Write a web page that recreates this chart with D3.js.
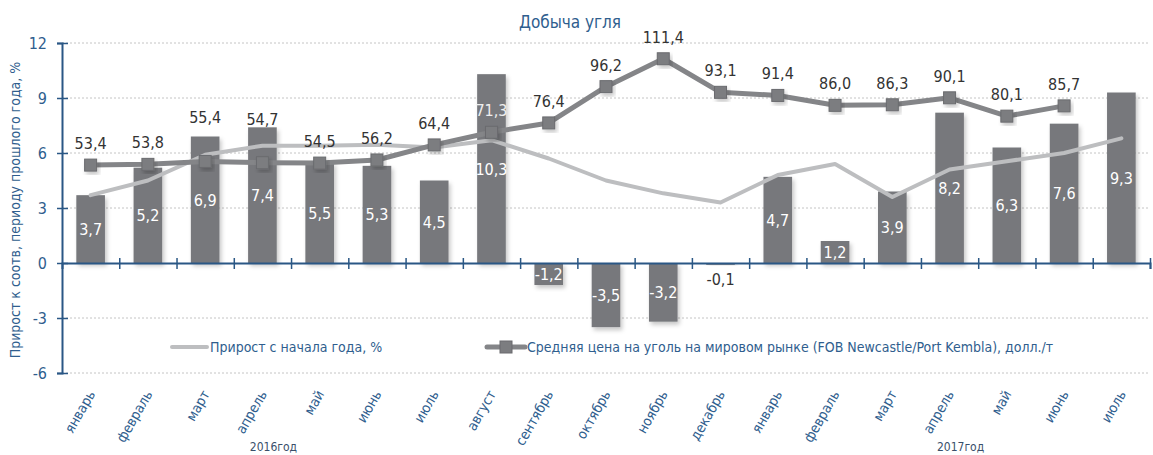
<!DOCTYPE html>
<html>
<head>
<meta charset="utf-8">
<script src="https://cdn.jsdelivr.net/npm/d3@7"></script>
<style>
    body { margin: 0; background: #fff; }
    svg text { font-family: "Liberation Sans Narrow", "DejaVu Sans Condensed", "Roboto", sans-serif; }
</style>
</head>
<body>
<svg id="chart" width="1153" height="455"></svg>
<script>
// month labels under the bars (two years in a row)
var months = ["январь", "февраль", "март", "апрель", "май", "июнь", "июль", "август",
    "сентябрь", "октябрь", "ноябрь", "декабрь", "январь", "февраль", "март", "апрель",
    "май", "июнь", "июль"];
// growth vs the same period of the previous year, %
var growth = [3.7, 5.2, 6.9, 7.4, 5.5, 5.3, 4.5, 10.3, -1.2, -3.5, -3.2, -0.1,
    4.7, 1.2, 3.9, 8.2, 6.3, 7.6, 9.3];
// growth since the start of the year, %
var growthYtd = [3.7, 4.5, 5.9, 6.4, 6.4, 6.45, 6.3, 6.7, 5.7, 4.5, 3.8, 3.3,
    4.8, 5.4, 3.6, 5.1, 5.55, 6.0, 6.8];
// coal price FOB Newcastle/Port Kembla, USD/t (secondary axis)
var price = [53.4, 53.8, 55.4, 54.7, 54.5, 56.2, 64.4, 71.3, 76.4, 96.2, 111.4, 93.1,
    91.4, 86.0, 86.3, 90.1, 80.1, 85.7, null];
var yTicks = [-6, -3, 0, 3, 6, 9, 12];
var years = [{label: "2016год", at: 3}, {label: "2017год", at: 15}];
var seriesNames = ["Прирост с начала года, %",
    "Средняя цена на уголь на мировом рынке (FOB Newcastle/Port Kembla), долл./т"];

var BLUE = "#2f5e8e", BAR = "#77787c", LIGHT = "#bdbec0", DARK = "#848588";
var plotLeft = 62, plotRight = 1150, plotTop = 43, plotBottom = 373;
var raisedLabels = [2, 3]; // price labels lifted above the bars

var svg = d3.select("#chart");
// comma decimals and a plain hyphen for negatives, as in the original
var fmt = function(v) { return d3.format(".1f")(v).replace(".", ",").replace("\u2212", "-"); };

var x = d3.scaleBand().domain(d3.range(months.length))
    .range([plotLeft, plotRight]).paddingInner(0.5).paddingOuter(0.25);
var y = d3.scaleLinear().domain([-6, 12]).range([plotBottom, plotTop]);
var y2 = d3.scaleLinear().domain([-60, 120]).range([plotBottom, plotTop]);
var cx = function(i) { return x(i) + x.bandwidth() / 2; };

// soft shadow under the bars
var defs = svg.append("defs");
defs.append("filter").attr("id", "shadow")
    .attr("x", "-20%").attr("y", "-20%").attr("width", "150%").attr("height", "150%")
    .append("feDropShadow")
    .attr("dx", 2).attr("dy", 3).attr("stdDeviation", 2)
    .attr("flood-color", "#000").attr("flood-opacity", 0.22);

// dotted gridlines
svg.append("g").selectAll("line")
    .data(yTicks.filter(function(t) { return t !== 0; }))
    .enter().append("line")
    .attr("x1", plotLeft).attr("x2", plotRight)
    .attr("y1", function(d) { return y(d); }).attr("y2", function(d) { return y(d); })
    .attr("stroke", "#c4c4c4").attr("stroke-dasharray", "2,2");

// bars
svg.append("g").selectAll("rect")
    .data(growth).enter().append("rect")
    .attr("x", function(d, i) { return x(i); })
    .attr("width", x.bandwidth())
    .attr("y", function(d) { return y(Math.max(d, 0)); })
    .attr("height", function(d) { return Math.abs(y(d) - y(0)); })
    .attr("fill", BAR)
    .attr("filter", "url(#shadow)");

// axes
var yAxis = svg.append("g")
    .attr("transform", "translate(" + plotLeft + ",0)")
    .call(d3.axisLeft(y).tickValues(yTicks).tickSize(5).tickPadding(10)
        .tickFormat(function(d) { return d; }));
yAxis.selectAll(".tick line").attr("x2", 6).attr("x1", -5);
var xAxis = svg.append("g")
    .attr("transform", "translate(0," + y(0) + ")")
    .call(d3.axisBottom(d3.scaleLinear().domain([0, months.length]).range([plotLeft, plotRight]))
        .tickValues(d3.range(1, months.length + 1)).tickSize(6).tickFormat(""));
xAxis.selectAll(".tick line").attr("y1", -5);
[yAxis, xAxis].forEach(function(a) {
    a.select(".domain").attr("stroke", "#2a5785").attr("stroke-width", 2);
    a.selectAll(".tick line").attr("stroke", "#2a5785").attr("stroke-width", 1.5);
});
yAxis.selectAll(".tick text").attr("fill", BLUE).attr("font-size", 16)
    .attr("font-family", null);

// growth since start of year
svg.append("path").datum(growthYtd)
    .attr("fill", "none").attr("stroke", LIGHT).attr("stroke-width", 4)
    .attr("stroke-linejoin", "round").attr("stroke-linecap", "round")
    .attr("d", d3.line().x(function(d, i) { return cx(i); }).y(function(d) { return y(d); }));

// price line with square markers
var priceLine = d3.line()
    .defined(function(d) { return d !== null; })
    .x(function(d, i) { return cx(i); }).y(function(d) { return y2(d); });
svg.append("path").datum(price)
    .attr("fill", "none").attr("stroke", DARK).attr("stroke-width", 5)
    .attr("stroke-linejoin", "round").attr("d", priceLine);
svg.append("g").selectAll("rect")
    .data(price.map(function(v, i) { return {v: v, i: i}; })
        .filter(function(d) { return d.v !== null; }))
    .enter().append("rect")
    .attr("x", function(d) { return cx(d.i) - 6; })
    .attr("y", function(d) { return y2(d.v) - 6; })
    .attr("width", 12).attr("height", 12)
    .attr("fill", "#7c7d80").attr("stroke", "#6a6b6e").attr("stroke-width", 1)
    .attr("filter", "url(#shadow)");

// bar value labels
svg.append("g").selectAll("text")
    .data(growth).enter().append("text")
    .attr("x", function(d, i) { return cx(i); })
    .attr("y", function(d) {
        var h = Math.abs(y(d) - y(0));
        if (h < 14) return y(0) + 22;
        return (y(d) + y(0)) / 2 + 6;
    })
    .attr("text-anchor", "middle").attr("font-size", 16)
    .attr("fill", function(d) { return Math.abs(y(d) - y(0)) < 14 ? "#333" : "#fff"; })
    .text(fmt);

// price labels
function priceLabelY(d) {
    var off = raisedLabels.indexOf(d.i) >= 0 ? 38 : 16;
    return y2(d.v) - off;
}
svg.append("g").selectAll("text")
    .data(price.map(function(v, i) { return {v: v, i: i}; })
        .filter(function(d) { return d.v !== null; }))
    .enter().append("text")
    .attr("x", function(d) { return cx(d.i); })
    .attr("y", priceLabelY)
    .attr("text-anchor", "middle").attr("font-size", 16)
    .attr("fill", function(d) {
        // light text where the label sits on top of a bar
        var ly = priceLabelY(d) - 6;
        return (growth[d.i] > 0 && ly > y(growth[d.i])) ? "#eeeeee" : "#333";
    })
    .text(function(d) { return fmt(d.v); });

// month labels, rotated
svg.append("g").selectAll("text")
    .data(months).enter().append("text")
    .attr("transform", function(d, i) {
        return "translate(" + (cx(i) + 5) + ",394) rotate(-60)";
    })
    .attr("text-anchor", "end").attr("font-size", 14).attr("fill", BLUE)
    .text(function(d) { return d; });

svg.append("g").selectAll("text")
    .data(years).enter().append("text")
    .attr("x", function(d) { return cx(d.at) + 11; })
    .attr("y", 451)
    .attr("text-anchor", "middle").attr("font-size", 12).attr("fill", "#3a4f6a")
    .text(function(d) { return d.label; });

// title and axis title
svg.append("text").attr("x", 570).attr("y", 28)
    .attr("text-anchor", "middle").attr("font-size", 17).attr("fill", BLUE)
    .text("Добыча угля");
svg.append("text").attr("transform", "translate(20,210) rotate(-90)")
    .attr("text-anchor", "middle").attr("font-size", 14).attr("fill", BLUE)
    .text("Прирост к соотв, периоду прошлого года, %");

// legend
var legend = svg.append("g").attr("transform", "translate(0,347)");
legend.append("line").attr("x1", 172).attr("x2", 207)
    .attr("stroke", LIGHT).attr("stroke-width", 4).attr("stroke-linecap", "round");
legend.append("text").attr("x", 210).attr("y", 5)
    .attr("font-size", 14).attr("fill", BLUE).text(seriesNames[0]);
legend.append("line").attr("x1", 487).attr("x2", 525)
    .attr("stroke", DARK).attr("stroke-width", 5).attr("stroke-linecap", "round");
legend.append("rect").attr("x", 500).attr("y", -6).attr("width", 12).attr("height", 12)
    .attr("fill", "#7c7d80").attr("stroke", "#6a6b6e");
legend.append("text").attr("x", 527).attr("y", 5)
    .attr("font-size", 14).attr("fill", BLUE).text(seriesNames[1]);
</script>
</body>
</html>
